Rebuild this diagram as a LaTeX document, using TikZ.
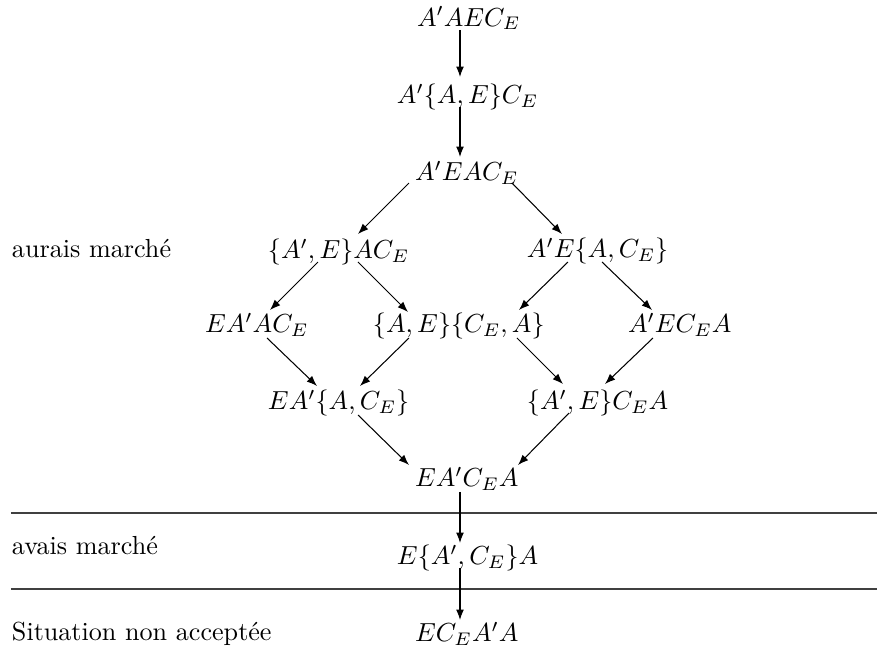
\documentclass[tikz,border=0pt]{standalone}
\usepackage{fontspec}
\usetikzlibrary{arrows.meta}
\begin{document}
\begin{tikzpicture}[x=0.3831pt,y=-0.3831pt,
  st/.style={inner sep=0pt,outer sep=0pt,anchor=base west},
  arr/.style={-{Latex[length=4pt,width=3pt]},line width=0.4pt},
  sep/.style={line width=0.4pt,draw=black!75}]
\useasboundingbox (0,0) rectangle (877,652);
% states
\node[st] (n1)  at (417,26)  {$A'AEC_E$};
\node[st] (n2)  at (397,104) {$A'\{A,E\}C_E$};
\node[st] (n3)  at (415,181) {$A'EAC_E$};
\node[st] (n4)  at (268,259) {$\{A',E\}AC_E$};
\node[st] (n5)  at (527,258) {$A'E\{A,C_E\}$};
\node[st] (n6)  at (205,333) {$EA'AC_E$};
\node[st] (n7)  at (373,333) {$\{A,E\}\{C_E,A\}$};
\node[st] (n8)  at (628,333) {$A'EC_EA$};
\node[st] (n9)  at (268,410) {$EA'\{A,C_E\}$};
\node[st] (n10) at (527,410) {$\{A',E\}C_EA$};
\node[st] (n11) at (415,487) {$EA'C_EA$};
\node[st] (n12) at (397,565) {$E\{A',C_E\}A$};
\node[st] (n13) at (415,642) {$EC_EA'A$};
% labels
\node[st] (l1) at (12,257) {aurais marché};
\node[st] (l2) at (12,555) {avais marché};
\node[st] (l3) at (12,641) {Situation non acceptée};
% separators
\coordinate (s1a) at (11,513); \coordinate (s1b) at (877,513);
\coordinate (s2a) at (11,589); \coordinate (s2b) at (877,589);
\draw[sep] (s1a) -- (s1b);
\draw[sep] (s2a) -- (s2b);
% arrows
\draw[arr] ([shift={(43,4)}]n1.base west) -- ([shift={(63,-27)}]n2.base west);
\draw[arr] ([shift={(63,3)}]n2.base west) -- ([shift={(45,-24)}]n3.base west);
\draw[arr] ([shift={(-6,2)}]n3.base west) -- ([shift={(90,-25)}]n4.base west);
\draw[arr] ([shift={(97,2)}]n3.base west) -- ([shift={(35,-24)}]n5.base west);
\draw[arr] ([shift={(50,3)}]n4.base west) -- ([shift={(65,-23)}]n6.base west);
\draw[arr] ([shift={(90,3)}]n4.base west) -- ([shift={(35,-21)}]n7.base west);
\draw[arr] ([shift={(41,4)}]n5.base west) -- ([shift={(146,-23)}]n7.base west);
\draw[arr] ([shift={(75,4)}]n5.base west) -- ([shift={(24,-23)}]n8.base west);
\draw[arr] ([shift={(62,5)}]n6.base west) -- ([shift={(49,-24)}]n9.base west);
\draw[arr] ([shift={(36,5)}]n7.base west) -- ([shift={(92,-24)}]n9.base west);
\draw[arr] ([shift={(144,5)}]n7.base west) -- ([shift={(36,-26)}]n10.base west);
\draw[arr] ([shift={(25,5)}]n8.base west) -- ([shift={(78,-26)}]n10.base west);
\draw[arr] ([shift={(90,5)}]n9.base west) -- ([shift={(-6,-22)}]n11.base west);
\draw[arr] ([shift={(42,3)}]n10.base west) -- ([shift={(103,-22)}]n11.base west);
\draw[arr] ([shift={(45,5)}]n11.base west) -- ([shift={(63,-22)}]n12.base west);
\draw[arr] ([shift={(63,3)}]n12.base west) -- ([shift={(45,-22)}]n13.base west);
\end{tikzpicture}
\end{document}
